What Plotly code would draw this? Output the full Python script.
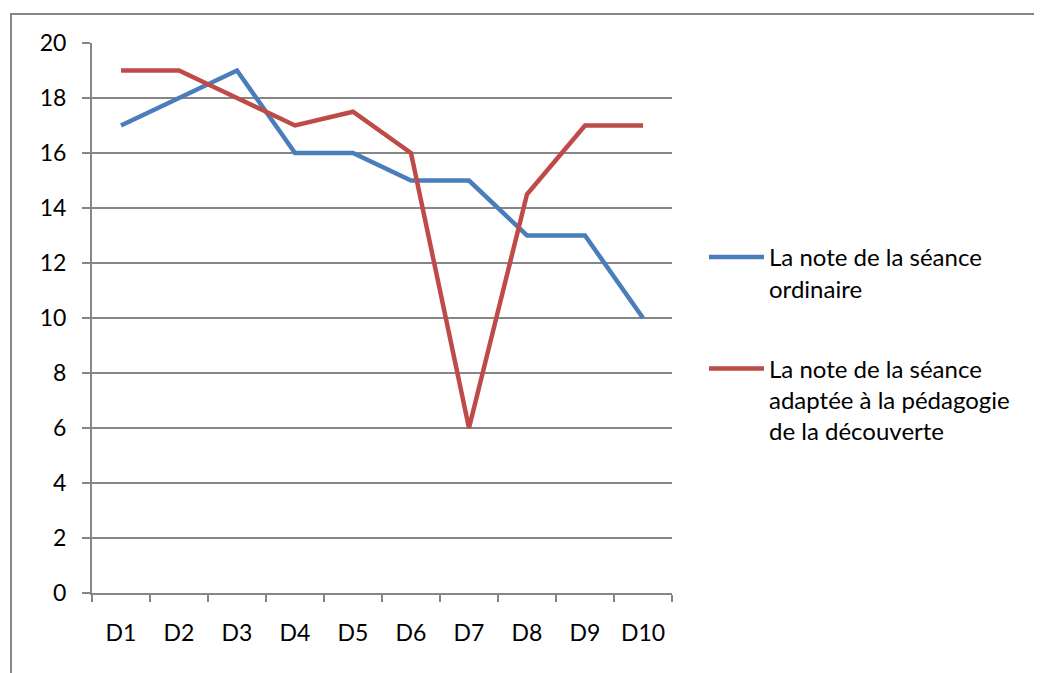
import plotly.graph_objects as go

categories = ["D1", "D2", "D3", "D4", "D5", "D6", "D7", "D8", "D9", "D10"]
ordinaire = [17, 18, 19, 16, 16, 15, 15, 13, 13, 10]
decouverte = [19, 19, 18, 17, 17.5, 16, 6, 14.5, 17, 17]
name_ord = "La note de la séance<br>ordinaire"
name_dec = "La note de la séance<br>adaptée à la pédagogie<br>de la découverte"

W, H = 1042, 673
OFF = 8  # page body margin
L, R, T, B = 92 - OFF, 672 - OFF, 43 - OFF, 593 - OFF
pw, ph = R - L, B - T

def px(x):
    return (x - OFF - L) / pw

def py(y):
    return (B - (y - OFF)) / ph

FONT = "Lato"

fig = go.Figure()
fig.add_trace(go.Scatter(x=categories, y=ordinaire, mode="lines", name=name_ord,
                         legendgroup="a",
                         line=dict(color="#4A7EBB", width=4.5)))
fig.add_trace(go.Scatter(x=categories, y=decouverte, mode="lines", name=name_dec,
                         legendgroup="b",
                         line=dict(color="#BE4B48", width=4.5)))

fig.update_layout(
    width=W, height=H,
    margin=dict(l=L, r=W - R, t=T, b=H - B, pad=0),
    paper_bgcolor="white", plot_bgcolor="white",
    font=dict(family=FONT, size=23, color="black"),
    showlegend=True,
    legend=dict(x=px(704), y=py(235), xanchor="left", yanchor="top",
                itemwidth=55, valign="top", tracegroupgap=46,
                font=dict(family=FONT, size=24, color="black"),
                bgcolor="rgba(0,0,0,0)"),
    xaxis=dict(type="category", range=[-0.5, 9.5], showgrid=False,
               showline=True, linecolor="#868686", linewidth=2,
               ticks="outside", tickson="boundaries", ticklen=7,
               tickcolor="#868686", tickwidth=2, ticklabelstandoff=18,
               tickfont=dict(family=FONT, size=23), zeroline=False),
    yaxis=dict(range=[0, 20], dtick=2, showgrid=True, gridcolor="#868686",
               gridwidth=2, showline=True, linecolor="#868686", linewidth=2,
               ticks="outside", ticklen=8, tickcolor="#868686", tickwidth=2,
               ticklabelstandoff=11,
               tickfont=dict(family=FONT, size=23), zeroline=False),
    shapes=[dict(type="rect", xref="paper", yref="paper",
                 x0=px(11), x1=px(1060), y0=py(700), y1=py(14),
                 line=dict(color="#868686", width=2))],
)

fig.write_html("out.html")
